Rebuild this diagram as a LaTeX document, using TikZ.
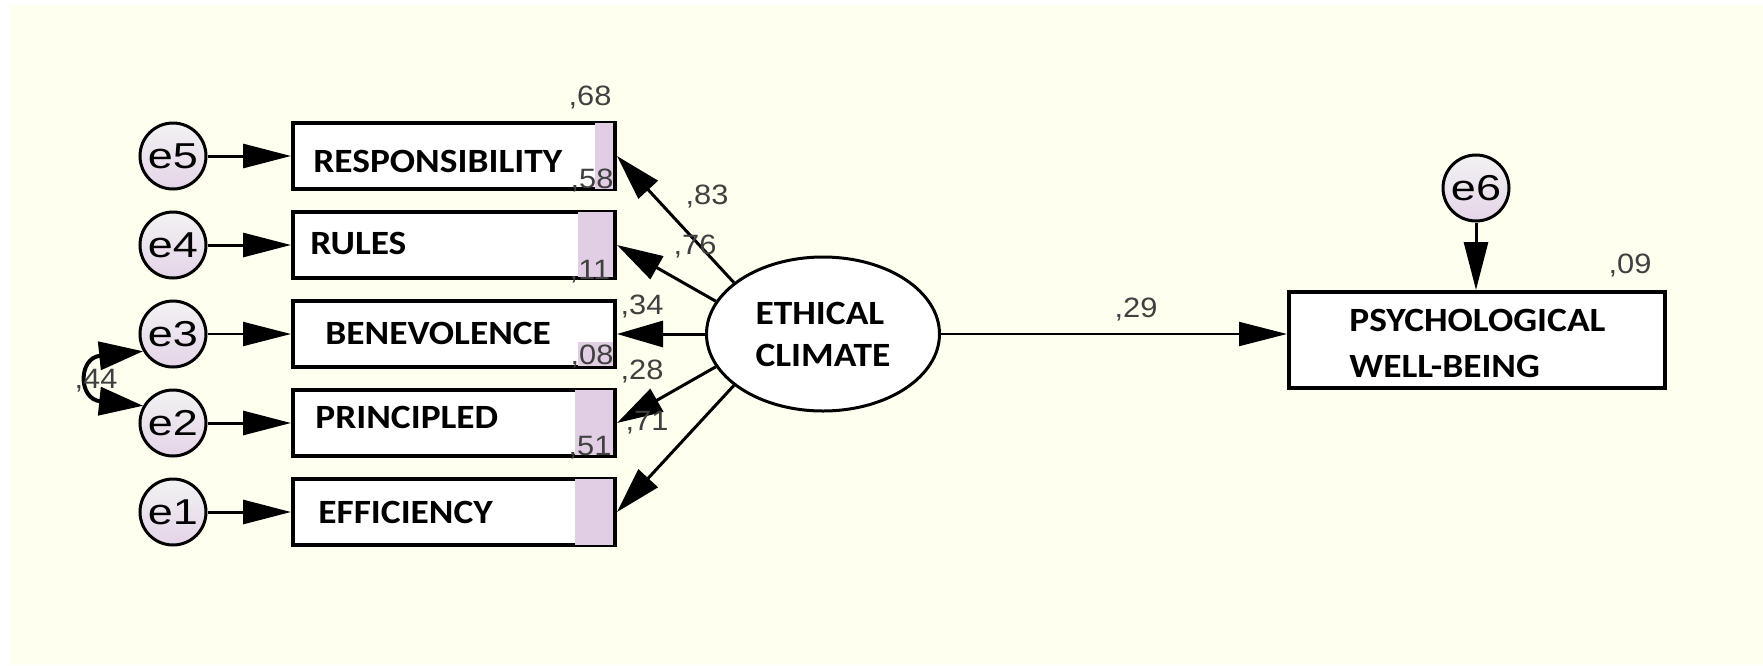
\documentclass[tikz,border=0pt]{standalone}
\usepackage{fontspec}
\setmainfont{Liberation Sans}
\newfontfamily\boxfont{Carlito}[FakeStretch=1.1]
\newfontfamily\numfont{Liberation Sans}[FakeStretch=1.1]
\newfontfamily\efont{Liberation Sans}[FakeStretch=1.25]
\usetikzlibrary{arrows.meta,shapes.geometric}
\definecolor{cream}{RGB}{254,255,238}
\definecolor{lav}{RGB}{228,212,232}
\definecolor{stripc}{RGB}{226,206,228}
\begin{document}
\begin{tikzpicture}[x=0.5pt,y=-0.5pt,
  box/.style={draw=black, line width=2pt, fill=white, minimum width=161pt, minimum height=33pt, inner sep=0pt},
  err/.style={circle, draw=black, line width=1.5pt, top color=gray!10, bottom color=lav, minimum size=33pt, inner sep=0pt, font=\efont\fontsize{18}{18}\selectfont},
  lbl/.style={anchor=west, inner sep=0pt, font=\boxfont\bfseries\fontsize{17}{17}\selectfont},
  num/.style={inner sep=0pt, text=black!75, font=\numfont\fontsize{14}{14}\selectfont},
  arr/.style={line width=1.5pt, -{Triangle[length=24pt,width=12pt]}},
  arrc/.style={line width=1.5pt, -{Triangle[length=23pt,width=13pt]}},
]
\fill[white] (0,0) rectangle (1763,665);
\fill[cream] (10,5) rectangle (1763,665);
\useasboundingbox (0,0) rectangle (1763,665);

% indicator boxes
\node[box] (resp) at (454,156) {};
\node[box] (rules) at (454,245) {};
\node[box] (ben) at (454,334) {};
\node[box] (prin) at (454,423) {};
\node[box] (eff) at (454,512) {};
\fill[stripc] (595,123) rectangle (613,189);
\fill[stripc] (578,212) rectangle (613,277);
\fill[stripc] (578,342) rectangle (613,366);
\fill[stripc] (575,390) rectangle (613,455);
\fill[stripc] (575,479) rectangle (613,545);
\node[lbl] (tresp) at (313,161) {RESPONSIBILITY};
\node[lbl] (trules) at (310,243) {RULES};
\node[lbl] (tben) at (325,333) {BENEVOLENCE};
\node[lbl] (tprin) at (315,417) {PRINCIPLED};
\node[lbl] (teff) at (318,512) {EFFICIENCY};

% error terms
\node[err] (e5) at (173,156) {e5};
\node[err] (e4) at (173,245) {e4};
\node[err] (e3) at (173,334) {e3};
\node[err] (e2) at (173,423) {e2};
\node[err] (e1) at (173,512) {e1};
\draw[arr] (e5) -- (resp);
\draw[arr] (e4) -- (rules);
\draw[arr, line width=1pt] (e3) -- (ben);
\draw[arr] (e2) -- (prin);
\draw[arr] (e1) -- (eff);
\draw[line width=2pt, {Triangle[length=22pt,width=14pt]}-{Triangle[length=22pt,width=14pt]}] (e3.210) .. controls (78,358) and (78,399) .. (e2.150);
\node[num] (c44) at (96,381) {,44};

% latent
\node[ellipse, draw=black, line width=1.5pt, fill=white, minimum width=116.5pt, minimum height=77pt, inner sep=0pt, align=left, font=\boxfont\bfseries\fontsize{17}{21}\selectfont] (ec) at (823,334) {ETHICAL\\CLIMATE};
\draw[arrc] (ec.150) -- (resp.east);
\draw[arrc] (ec.163) -- (rules.east);
\draw[arrc] (ec.west) -- (ben.east);
\draw[arrc] (ec.197) -- (prin.east);
\draw[arrc] (ec.210) -- (eff.east);

% outcome
\node[box, minimum width=188pt, minimum height=48pt] (psy) at (1477,340) {};
\node[lbl] (tpsy1) at (1349,320) {PSYCHOLOGICAL};
\node[lbl] (tpsy2) at (1349,366) {WELL-BEING};
\node[err] (e6) at (1476,188) {e6};
\draw[arr] (e6) -- (psy.north -| e6);
\draw[line width=1pt, -{Triangle[length=24pt,width=12pt]}] (ec.east) -- (psy.west |- ec.east);

% numbers
\node[num] (n68) at (590,98) {,68};
\node[num] (n58) at (592,181) {,58};
\node[num] (n11) at (590,272) {,11};
\node[num] (n08) at (592,357) {,08};
\node[num] (n51) at (590,448) {,51};
\node[num] (n83) at (707,197) {,83};
\node[num] (n76) at (695,247) {,76};
\node[num] (n34) at (642,307) {,34};
\node[num] (n28) at (642,372) {,28};
\node[num] (n71) at (647,423) {,71};
\node[num] (n29) at (1136,310) {,29};
\node[num] (n09) at (1630,266) {,09};
\end{tikzpicture}
\end{document}
